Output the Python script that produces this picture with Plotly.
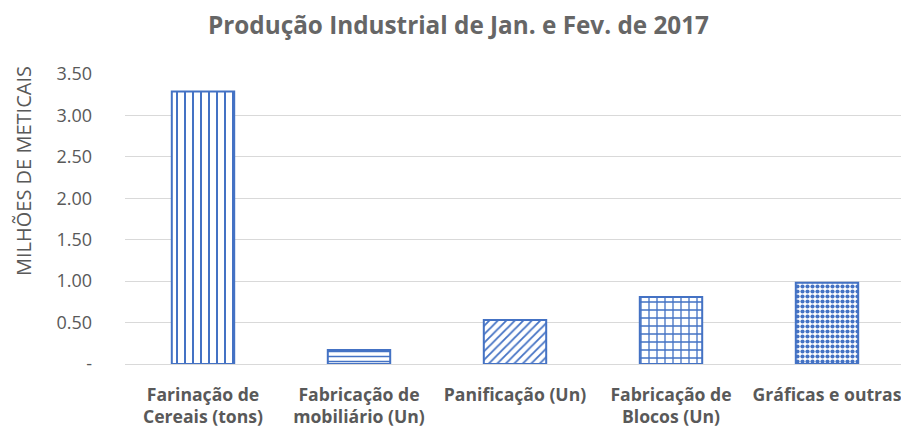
import plotly.graph_objects as go

categories = ["Farinação de<br>Cereais (tons)", "Fabricação de<br>mobiliário (Un)", "Panificação (Un)",
              "Fabricação de<br>Blocos (Un)", "Gráficas e outras"]
values = [3.29, 0.17, 0.53, 0.81, 0.98]
patterns = ["|", "-", "/", "+", "."]
pattern_sizes = [8, 5, 6, 8, 5]
pattern_solid = [0.25, 0.3, 0.3, 0.3, 0.55]
tick_vals = [0, 0.5, 1.0, 1.5, 2.0, 2.5, 3.0, 3.5]
tick_text = ["-", "0.50", "1.00", "1.50", "2.00", "2.50", "3.00", "3.50"]

blue = "#4472c4"
gray = "#595959"
font_family = "Open Sans, sans-serif"

fig = go.Figure(go.Bar(
    x=categories, y=values, width=0.4,
    marker=dict(color="white", line=dict(color=blue, width=2),
                pattern=dict(shape=patterns, fgcolor=blue, bgcolor="white",
                             size=pattern_sizes, solidity=pattern_solid, fillmode="replace")),
))

fig.update_layout(
    width=901, height=419,
    margin=dict(l=117, r=4, t=66, b=63),
    paper_bgcolor="white", plot_bgcolor="white",
    font=dict(family=font_family, color=gray, size=17),
    title=dict(text="<b>Produção Industrial de Jan. e Fev. de 2017</b>", x=0.5, xanchor="center",
               y=0.959, yanchor="middle", font=dict(size=24.3, color="#666666")),
    showlegend=False, bargap=0.6,
    annotations=[dict(text="MILHÕES DE METICAIS", textangle=-90, xref="paper", yref="paper",
                      x=-0.1308, y=0.6655, xanchor="center", yanchor="middle", showarrow=False,
                      font=dict(size=20, color=gray))],
)
fig.update_yaxes(range=[0, 3.5], tickvals=tick_vals, ticktext=tick_text,
                 showgrid=True, gridcolor="#d9d9d9", gridwidth=1, zeroline=True,
                 zerolinecolor="#d9d9d9", zerolinewidth=1, showline=False, automargin=False,
                 ticklabelstandoff=32, tickfont=dict(size=18, color=gray))
fig.update_xaxes(tickfont=dict(size=17.6, color=gray), showline=False, ticks="",
                 ticklabelstandoff=18, automargin=False,
                 tickprefix="<b>", ticksuffix="</b>")

fig.write_html("out.html")
